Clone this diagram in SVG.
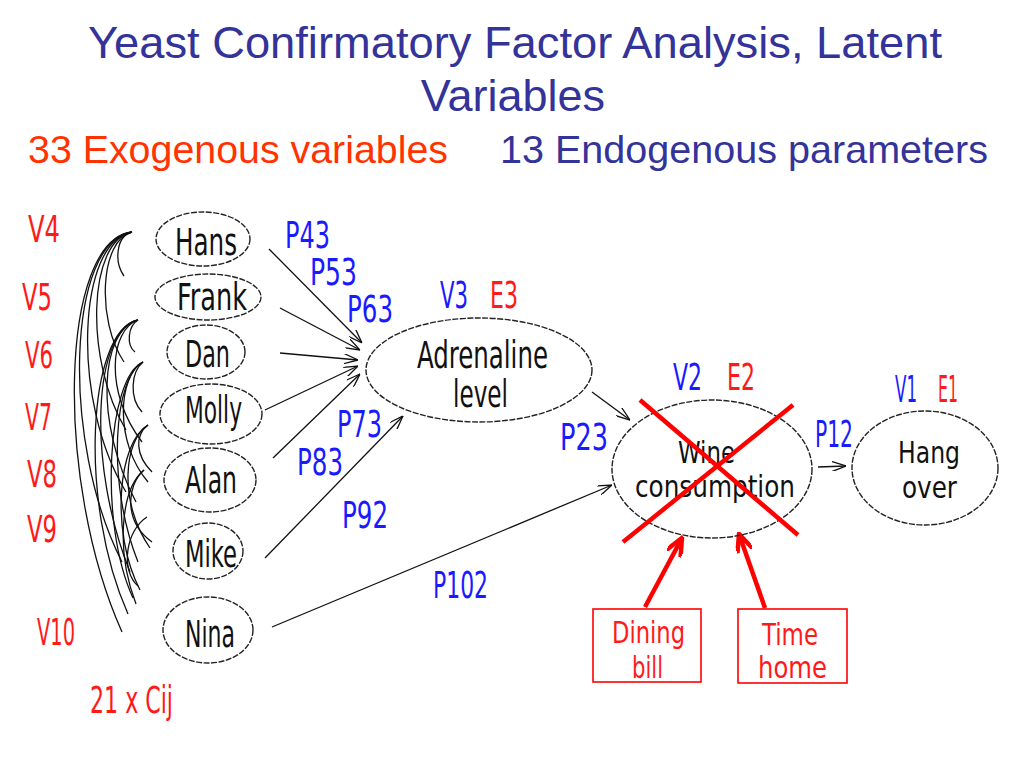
<svg xmlns="http://www.w3.org/2000/svg" width="1024" height="768" viewBox="0 0 1024 768">
<style>
.title{font-family:'Liberation Sans',Arimo,Arial,sans-serif;font-size:45px;fill:#333399}
.sub{font-family:'Liberation Sans',Arimo,Arial,sans-serif;font-size:39px}
.c{font-family:"DejaVu Sans Condensed","DejaVu Sans",sans-serif;font-stretch:condensed;font-size:37px}
.s{font-size:31px}
.red{fill:#ff1a1a}
.blue{fill:#1a1aff}
.blk{fill:#111}
.node{fill:none;stroke:#222;stroke-width:1.4;stroke-dasharray:6 1.5}
.conn{fill:none;stroke:#111;stroke-width:1.3}
.cov{fill:none;stroke:#111;stroke-width:1.3}
.x{stroke:#ff0000;stroke-width:4.5;fill:none}
.rarrow{stroke:#ff0000;stroke-width:4.5;fill:none}
.box{fill:none;stroke:#ff0000;stroke-width:1.6}
</style>
<defs>
<marker id="ah" viewBox="0 0 14 10" refX="14" refY="5" markerWidth="14" markerHeight="10" markerUnits="userSpaceOnUse" orient="auto">
<path d="M0,0 L14,5 L0,10" fill="none" stroke="#111" stroke-width="1.3"/>
</marker>
<marker id="rah" viewBox="0 0 20 16" refX="18" refY="8" markerWidth="20" markerHeight="16" markerUnits="userSpaceOnUse" orient="auto">
<path d="M0,0 L18,8 L0,16" fill="none" stroke="#ff0000" stroke-width="4.5"/>
</marker>
</defs>
<rect width="1024" height="768" fill="#fff"/>

<g id="title">
<text class="title" x="88" y="58" textLength="854" lengthAdjust="spacingAndGlyphs">Yeast Confirmatory Factor Analysis, Latent</text>
<text class="title" x="513" y="111" text-anchor="middle">Variables</text>
<text class="sub" x="28" y="163" fill="#ff3300" textLength="420" lengthAdjust="spacingAndGlyphs">33 Exogenous variables</text>
<text class="sub" x="500" y="163" fill="#333399" textLength="488" lengthAdjust="spacingAndGlyphs">13 Endogenous parameters</text>
</g>

<g id="covariances">
<path class="cov" d="M132,232 C116,236 114,262 124,276"/>
<path class="cov" d="M132,232 C100,240 96,320 124,362"/>
<path class="cov" d="M132,232 C88,240 84,360 126,430"/>
<path class="cov" d="M132,232 C78,240 70,400 126,492"/>
<path class="cov" d="M132,232 C68,240 60,440 122,562"/>
<path class="cov" d="M132,232 C60,240 54,480 122,632"/>
<path class="cov" d="M138,320 C128,326 126,345 135,352"/>
<path class="cov" d="M138,320 C110,330 104,392 142,442"/>
<path class="cov" d="M138,320 C100,330 94,422 136,502"/>
<path class="cov" d="M138,320 C94,330 86,462 130,572"/>
<path class="cov" d="M138,320 C88,330 78,502 128,614"/>
<path class="cov" d="M143,362 C131,372 129,398 142,412"/>
<path class="cov" d="M143,362 C118,376 114,442 148,482"/>
<path class="cov" d="M143,362 C114,376 106,482 138,562"/>
<path class="cov" d="M143,362 C108,376 98,522 133,598"/>
<path class="cov" d="M148,425 C135,435 135,455 152,472"/>
<path class="cov" d="M148,425 C124,440 118,502 150,548"/>
<path class="cov" d="M148,425 C118,442 110,532 140,590"/>
<path class="cov" d="M144,470 C126,486 124,522 152,542"/>
<path class="cov" d="M144,470 C120,490 116,552 136,604"/>
<path class="cov" d="M147,517 C126,530 120,570 138,586"/>
</g>

<g id="connectors">
<line class="conn" x1="269" y1="249" x2="362" y2="343" marker-end="url(#ah)"/>
<line class="conn" x1="280" y1="308" x2="360" y2="350" marker-end="url(#ah)"/>
<line class="conn" x1="280" y1="353" x2="358" y2="360" marker-end="url(#ah)"/>
<line class="conn" x1="265" y1="410" x2="358" y2="366" marker-end="url(#ah)"/>
<line class="conn" x1="273" y1="458" x2="360" y2="374" marker-end="url(#ah)"/>
<line class="conn" x1="265" y1="558" x2="403" y2="416" marker-end="url(#ah)"/>
<line class="conn" x1="272" y1="627" x2="612" y2="485" marker-end="url(#ah)"/>
<line class="conn" x1="592" y1="392" x2="630" y2="420" marker-end="url(#ah)"/>
<line class="conn" x1="818" y1="467" x2="846" y2="466" marker-end="url(#ah)"/>
<line class="rarrow" x1="645" y1="607" x2="682" y2="538" marker-end="url(#rah)"/>
<line class="rarrow" x1="765" y1="608" x2="739" y2="534" marker-end="url(#rah)"/>
</g>

<g id="hans"><ellipse class="node" cx="203" cy="239" rx="47" ry="27"/><text class="c blk" x="175" y="255" textLength="62" lengthAdjust="spacingAndGlyphs">Hans</text></g>
<g id="frank"><ellipse class="node" cx="208" cy="297" rx="53" ry="23"/><text class="c blk" x="177" y="310" textLength="70" lengthAdjust="spacingAndGlyphs">Frank</text></g>
<g id="dan"><ellipse class="node" cx="206" cy="352" rx="39" ry="27"/><text class="c blk" x="185" y="367" textLength="45" lengthAdjust="spacingAndGlyphs">Dan</text></g>
<g id="molly"><ellipse class="node" cx="211" cy="414" rx="51" ry="30"/><text class="c blk" x="185" y="423" textLength="57" lengthAdjust="spacingAndGlyphs">Molly</text></g>
<g id="alan"><ellipse class="node" cx="210" cy="480" rx="46" ry="32"/><text class="c blk" x="185" y="493" textLength="52" lengthAdjust="spacingAndGlyphs">Alan</text></g>
<g id="mike"><ellipse class="node" cx="208" cy="551" rx="35" ry="28"/><text class="c blk" x="185" y="567" textLength="52" lengthAdjust="spacingAndGlyphs">Mike</text></g>
<g id="nina"><ellipse class="node" cx="208" cy="630" rx="45" ry="33"/><text class="c blk" x="185" y="647" textLength="50" lengthAdjust="spacingAndGlyphs">Nina</text></g>

<g id="adrenaline"><ellipse class="node" cx="479" cy="370" rx="113" ry="52"/>
<text class="c blk" x="417" y="368" textLength="131" lengthAdjust="spacingAndGlyphs">Adrenaline</text>
<text class="c blk" x="453" y="407" textLength="55" lengthAdjust="spacingAndGlyphs">level</text></g>

<g id="wine"><ellipse class="node" cx="712" cy="469" rx="100" ry="69"/>
<text class="c s blk" x="678" y="463" textLength="57" lengthAdjust="spacingAndGlyphs">Wine</text>
<text class="c s blk" x="635" y="497" textLength="160" lengthAdjust="spacingAndGlyphs">consumption</text></g>

<g id="hangover"><ellipse class="node" cx="925" cy="468" rx="73" ry="57"/>
<text class="c s blk" x="898" y="463" textLength="62" lengthAdjust="spacingAndGlyphs">Hang</text>
<text class="c s blk" x="902" y="498" textLength="55" lengthAdjust="spacingAndGlyphs">over</text></g>

<g id="crossout">
<line class="x" x1="640" y1="400" x2="798" y2="535"/>
<line class="x" x1="793" y1="405" x2="623" y2="542"/>
</g>

<g id="dining"><rect class="box" x="593" y="609" width="108" height="73"/>
<text class="c s red" x="612" y="643" textLength="73" lengthAdjust="spacingAndGlyphs">Dining</text>
<text class="c s red" x="632" y="678" textLength="31" lengthAdjust="spacingAndGlyphs">bill</text></g>

<g id="timehome"><rect class="box" x="738" y="609" width="109" height="74"/>
<text class="c s red" x="762" y="645" textLength="56" lengthAdjust="spacingAndGlyphs">Time</text>
<text class="c s red" x="758" y="678" textLength="69" lengthAdjust="spacingAndGlyphs">home</text></g>

<g id="labels">
<text class="c red" x="28" y="242" textLength="32" lengthAdjust="spacingAndGlyphs">V4</text>
<text class="c red" x="22" y="310" textLength="30" lengthAdjust="spacingAndGlyphs">V5</text>
<text class="c red" x="25" y="368" textLength="28" lengthAdjust="spacingAndGlyphs">V6</text>
<text class="c red" x="25" y="430" textLength="27" lengthAdjust="spacingAndGlyphs">V7</text>
<text class="c red" x="27" y="487" textLength="30" lengthAdjust="spacingAndGlyphs">V8</text>
<text class="c red" x="27" y="542" textLength="30" lengthAdjust="spacingAndGlyphs">V9</text>
<text class="c red" x="37" y="645" textLength="38" lengthAdjust="spacingAndGlyphs">V10</text>
<text class="c red" x="90" y="713" textLength="83" lengthAdjust="spacingAndGlyphs">21 x Cij</text>

<text class="c blue" x="440" y="308" textLength="28" lengthAdjust="spacingAndGlyphs">V3</text>
<text class="c red" x="490" y="308" textLength="28" lengthAdjust="spacingAndGlyphs">E3</text>
<text class="c blue" x="673" y="390" textLength="29" lengthAdjust="spacingAndGlyphs">V2</text>
<text class="c red" x="727" y="390" textLength="28" lengthAdjust="spacingAndGlyphs">E2</text>
<text class="c blue" x="895" y="402" textLength="22" lengthAdjust="spacingAndGlyphs">V1</text>
<text class="c red" x="938" y="402" textLength="20" lengthAdjust="spacingAndGlyphs">E1</text>

<text class="c blue" x="285" y="248" textLength="45" lengthAdjust="spacingAndGlyphs">P43</text>
<text class="c blue" x="310" y="285" textLength="47" lengthAdjust="spacingAndGlyphs">P53</text>
<text class="c blue" x="347" y="322" textLength="46" lengthAdjust="spacingAndGlyphs">P63</text>
<text class="c blue" x="337" y="437" textLength="45" lengthAdjust="spacingAndGlyphs">P73</text>
<text class="c blue" x="297" y="475" textLength="46" lengthAdjust="spacingAndGlyphs">P83</text>
<text class="c blue" x="342" y="528" textLength="46" lengthAdjust="spacingAndGlyphs">P92</text>
<text class="c blue" x="433" y="598" textLength="55" lengthAdjust="spacingAndGlyphs">P102</text>
<text class="c blue" x="560" y="450" textLength="48" lengthAdjust="spacingAndGlyphs">P23</text>
<text class="c blue" x="815" y="447" textLength="38" lengthAdjust="spacingAndGlyphs">P12</text>
</g>
</svg>
